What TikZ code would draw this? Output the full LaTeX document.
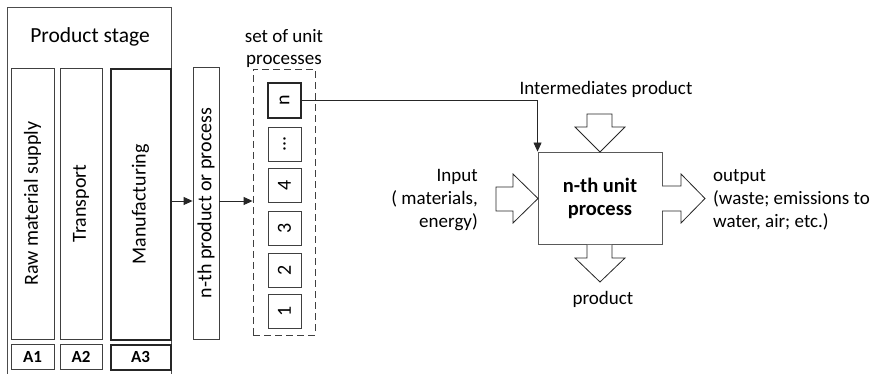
\documentclass[tikz,border=0pt]{standalone}
\usepackage{fontspec}
\setmainfont{Carlito}
\usetikzlibrary{arrows.meta,calc}
\tikzset{
  thick box/.style={draw=black!85, line width=2pt, inner sep=0pt},
  thin box/.style={draw=black!75, line width=0.8pt, inner sep=0pt},
  txt/.style={font=\fontsize{19}{23}\selectfont, inner sep=0pt},
  vtxt/.style={font=\fontsize{20}{23}\selectfont, rotate=90, inner sep=0pt},
  albl/.style={font=\fontsize{17}{19}\selectfont\bfseries},
  conn/.style={draw=black!85, line width=0.9pt, -{Triangle[length=9pt,width=8pt]}},
  blockarrow/.style={draw=black!85, line width=0.8pt, fill=white}
}
\begin{document}
\begin{tikzpicture}[x=1pt,y=-1pt]
\useasboundingbox (0,0) rectangle (884,374);
% outer product stage frame
\draw[black!70, line width=0.8pt] (7,374) -- (7,7) -- (171,7) -- (171,374);
\node[txt, font=\fontsize{21.5}{24}\selectfont] (ps) at (90,37) {Product stage};
% columns
\node[thin box, minimum width=43pt, minimum height=271pt] (raw) at (32.5,203.5) {};
\node[vtxt] at (raw.center) {Raw material supply};
\node[thin box, minimum width=42pt, minimum height=271pt] (tr) at (81,203.5) {};
\node[vtxt] at (tr.center) {Transport};
\node[thick box, minimum width=60pt, minimum height=270pt] (man) at (140.5,204.5) {};
\node[vtxt] at (man.center) {Manufacturing};
% A labels
\node[thin box, minimum width=43pt, minimum height=25pt, albl] (a1) at (32.5,356.5) {A1};
\node[thin box, minimum width=42pt, minimum height=25pt, albl] (a2) at (81,356.5) {A2};
\node[thick box, minimum width=60pt, minimum height=25pt, albl] (a3) at (140.5,357) {A3};
% n-th product or process
\node[thin box, minimum width=26pt, minimum height=272pt] (nth) at (206,203) {};
\node[vtxt] at (nth.center) {n-th product or process};
% set of unit processes
\node[thin box, dashed, dash pattern=on 7pt off 4pt, minimum width=62pt, minimum height=266pt] (set) at (284,202) {};
\node[txt, align=center, font=\fontsize{19}{22}\selectfont] (setlbl) at (284,48) {set of unit\\processes};
\foreach \nm/\yy/\lab in {u1/311/1, u2/270/2, u3/228/3, u4/185.5/4, ud/144/{...}}{
  \node[thin box, minimum width=33pt, minimum height=34pt] (\nm) at (284.5,\yy) {};
  \node[vtxt] at (\nm.center) {\lab};
}
\node[thick box, minimum width=33pt, minimum height=35pt] (un) at (284.5,100.5) {};
\node[vtxt] at (un.center) {n};
% connectors
\draw[conn] (man.east |- 0,201) -- (nth.west |- 0,201);
\draw[conn] (nth.east |- 0,201) -- (set.west |- 0,201);
% main box
\node[draw=black!65, line width=0.9pt, minimum width=124pt, minimum height=92pt, inner sep=0pt, align=center, font=\fontsize{20.5}{23}\selectfont\bfseries] (unit) at (600,198) {n-th unit\\process};
\draw[conn] (un.east) -- (unit.north west |- un.east) -- (unit.north west);
% block arrows
\draw[blockarrow] (587,114) -- (612,114) -- (612,127) -- (625,127) -- (600,152) -- (575,127) -- (587,127) -- cycle;
\draw[blockarrow] (587,245) -- (587,258) -- (575,258) -- (600,282) -- (625,258) -- (612,258) -- (612,245);
\draw[blockarrow] (496,187) -- (513,187) -- (513,174) -- (538,198.5) -- (513,223) -- (513,211) -- (496,211) -- cycle;
\draw[blockarrow] (662,186) -- (681,186) -- (681,174) -- (705,198.5) -- (681,223) -- (681,211) -- (662,211);
% labels
\node[txt] (inter) at (606,89) {Intermediates product};
\node[txt] (prod) at (603,299) {product};
\node[txt, align=right, anchor=east] (inp) at (478,200) {Input\\( materials,\\energy)};
\node[txt, align=left, anchor=west] (outp) at (713,200) {output\\(waste; emissions to\\water, air; etc.)};
\end{tikzpicture}
\end{document}
